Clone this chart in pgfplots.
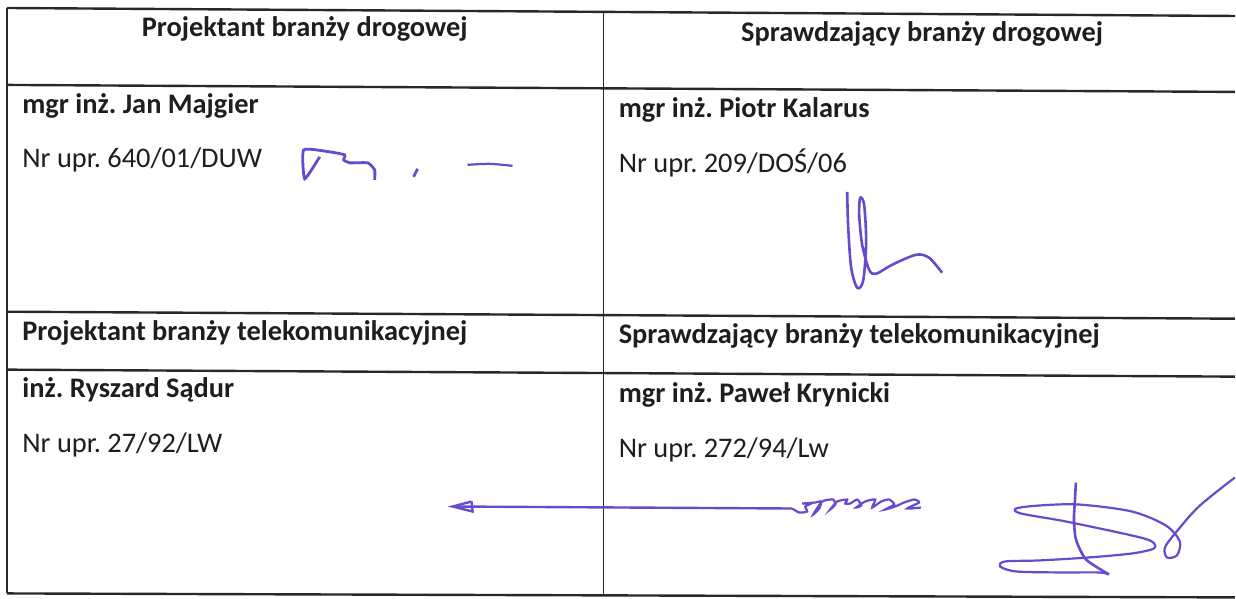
\documentclass[border=0pt]{standalone}
\usepackage{fontspec}
\setmainfont{Carlito}
\usepackage{pgfplots}
\pgfplotsset{compat=1.18}
\definecolor{ink}{RGB}{104,74,206}
\definecolor{txt}{RGB}{30,30,30}
\definecolor{rule}{RGB}{40,40,40}
\newcommand{\tf}{\fontsize{14.2pt}{16pt}\selectfont\frenchspacing}
\tikzset{t/.style={inner sep=0pt, text=txt, font=\tf}}
\begin{document}
\begin{tikzpicture}
\begin{axis}[
  x=0.5pt, y=0.5pt, y dir=reverse,
  xmin=0, xmax=1236, ymin=0, ymax=596,
  hide axis, clip=false,
]
% background (sets the picture extent)
\addplot[fill=white, draw=none] coordinates {(0,0) (1236,0) (1236,596) (0,596)} \closedcycle;
% table rules
\addplot[rule, line width=1.2pt] coordinates {(7,8) (1236,16)};
\addplot[rule, line width=1.2pt] coordinates {(7,85) (1236,92)};
\addplot[rule, line width=1.2pt] coordinates {(7,312) (1236,319)};
\addplot[rule, line width=1.2pt] coordinates {(7,370) (1236,377)};
\addplot[rule, line width=1.2pt] coordinates {(7,594) (1236,598)};
\addplot[rule, line width=1.2pt] coordinates {(7,8) (7,594)};
\addplot[rule, line width=0.9pt] coordinates {(604,11) (604,596)};
% texts
\node[t, anchor=base] at (axis cs:305,37) {\bfseries Projektant branży drogowej};
\node[t, anchor=base] at (axis cs:923,42) {\bfseries Sprawdzający branży drogowej};
\node[t, anchor=base west] at (axis cs:22,114) {\bfseries mgr inż. Jan Majgier};
\node[t, anchor=base west] at (axis cs:22,168) {Nr upr. 640/01/DUW};
\node[t, anchor=base west] at (axis cs:619,118) {\bfseries mgr inż. Piotr Kalarus};
\node[t, anchor=base west] at (axis cs:619,173) {Nr upr. 209/DOŚ/06};
\node[t, anchor=base west] at (axis cs:22,341) {\bfseries Projektant branży telekomunikacyjnej};
\node[t, anchor=base west] at (axis cs:619,344) {\bfseries Sprawdzający branży telekomunikacyjnej};
\node[t, anchor=base west] at (axis cs:22,398) {\bfseries inż. Ryszard Sądur};
\node[t, anchor=base west] at (axis cs:619,403) {\bfseries mgr inż. Paweł Krynicki};
\node[t, anchor=base west] at (axis cs:22,453) {Nr upr. 27/92/LW};
\node[t, anchor=base west] at (axis cs:619,458) {Nr upr. 272/94/Lw};
% signature 1
\addplot[ink, line width=1.4pt, smooth, tension=0.3] coordinates {(320,157) (305,179) (304,150) (330,152) (345,155) (344,160) (350,163) (368,163) (375,170) (375,180)};
\addplot[ink, line width=1.4pt] coordinates {(418,169) (414,177)};
\addplot[ink, line width=1.1pt, smooth] coordinates {(468,165) (490,164) (513,166)};
% signature 2
\addplot[ink, line width=1.3pt, smooth, tension=0.5] coordinates {(848,192) (849,227) (852,268) (858,288) (864,281) (867,243) (865,205) (861,198) (860,215) (863,245) (870,270) (877,274) (893,265) (917,255) (930,258) (943,273)};
% signature 3 : arrow
\addplot[ink, line width=1.2pt] coordinates {(472,502) (453,507) (473,512) (472,502)};
\addplot[ink, line width=1.2pt] coordinates {(455,507) (793,509)};
\addplot[ink, line width=1.1pt, smooth, tension=0.4] coordinates {(793,509) (800,513) (808,512) (806,507) (812,504) (803,504) (816,503) (822,502) (820,509) (814,515) (823,502) (834,500) (836,505) (831,510) (838,502) (848,500) (846,504) (851,504) (858,500) (862,506) (857,508) (866,502) (876,500) (873,508) (882,502) (890,500) (895,505) (886,510) (896,507) (905,503) (915,500) (920,503) (908,509) (922,508)};
% signature 4
\addplot[ink, line width=1.3pt, smooth, tension=0.4] coordinates {(1077,483) (1076,500) (1075,520) (1077,540) (1087,560) (1110,575)};
\addplot[ink, line width=1.1pt, smooth, tension=0.5] coordinates {(1110,575) (1100,573) (1060,573) (1017,572) (1001,567) (1006,562) (1040,561) (1090,558) (1133,554) (1155,549) (1153,542) (1133,536) (1067,522) (1022,514) (1017,509) (1040,506) (1080,505) (1133,512) (1167,526) (1181,542) (1178,556) (1168,558) (1166,548) (1177,533) (1200,507) (1236,478)};
\end{axis}
\end{tikzpicture}
\end{document}
